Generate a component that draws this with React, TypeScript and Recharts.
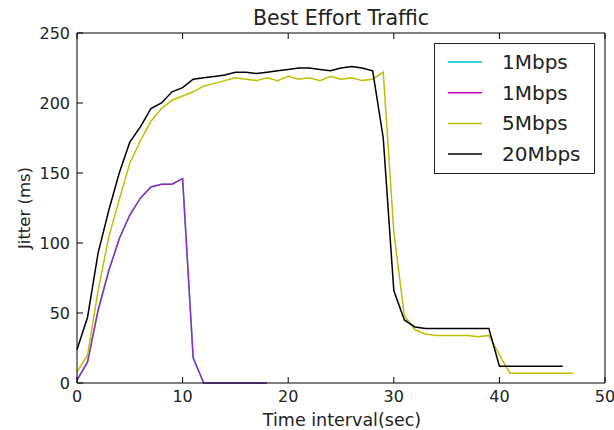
import React from "react";
import { Line, LineChart, XAxis, YAxis } from "recharts";

const seconds = [
  0, 1, 2, 3, 4, 5, 6, 7, 8, 9, 10, 11, 12, 13, 14, 15, 16, 17, 18, 19, 20, 21, 22, 23,
  24, 25, 26, 27, 28, 29, 30, 31, 32, 33, 34, 35, 36, 37, 38, 39, 40, 41, 42, 43, 44, 45, 46, 47,
];

// 1Mbps was measured twice; both runs give the same curve
const oneMbps = [2, 15, 52, 80, 103, 120, 132, 140, 142, 142, 146, 18, 0, 0, 0, 0, 0, 0, 0];

const fiveMbps = [
  8, 20, 66, 104, 131, 157, 173, 187, 196, 202, 205, 208, 212, 214, 216, 218, 217, 216, 218, 216,
  219, 217, 218, 216, 219, 217, 218, 216, 217, 222, 108, 48, 38, 35, 34, 34, 34, 34, 33, 34, 20,
  7, 7, 7, 7, 7, 7, 7,
];

const twentyMbps = [
  24, 47, 93, 123, 150, 172, 183, 196, 200, 208, 211, 217, 218, 219, 220, 222, 222, 221, 222, 223,
  224, 225, 225, 224, 223, 225, 226, 225, 223, 175, 66, 45, 40, 39, 39, 39, 39, 39, 39, 39, 12, 12,
  12, 12, 12, 12, 12,
];

const xTicks = [0, 10, 20, 30, 40, 50];
const yTicks = [0, 50, 100, 150, 200, 250];

const legendItems = [
  { label: "1Mbps", color: "#00bfbf" },
  { label: "1Mbps", color: "#bf00bf" },
  { label: "5Mbps", color: "#bfbf00" },
  { label: "20Mbps", color: "#000000" },
];

const rows = seconds.map((t, i) => ({
  t,
  oneA: oneMbps[i],
  oneB: oneMbps[i],
  five: fiveMbps[i],
  twenty: twentyMbps[i],
}));

const FONT = "'DejaVu Sans', sans-serif";
const TICK_LEN = 6;

// matplotlib-style ticks: marks point into the plot frame
const BottomTick = (props: any) => {
  const { x, y, payload } = props;
  return (
    <g>
      <line x1={x} y1={y} x2={x} y2={y - TICK_LEN} stroke="#000" />
      <text x={x} y={y + 19} textAnchor="middle" fontSize={16} fontFamily={FONT} fill="#222">
        {payload.value}
      </text>
    </g>
  );
};

const TopTick = (props: any) => {
  const { x, y } = props;
  return <line x1={x} y1={y} x2={x} y2={y + TICK_LEN} stroke="#000" />;
};

const LeftTick = (props: any) => {
  const { x, y, payload } = props;
  return (
    <g>
      <line x1={x} y1={y} x2={x + TICK_LEN} y2={y} stroke="#000" />
      <text x={x - 7} y={y + 6} textAnchor="end" fontSize={16} fontFamily={FONT} fill="#222">
        {payload.value}
      </text>
    </g>
  );
};

const RightTick = (props: any) => {
  const { x, y } = props;
  return <line x1={x} y1={y} x2={x - TICK_LEN} y2={y} stroke="#000" />;
};

const LegendBox = () => (
  <svg
    width={162}
    height={132}
    style={{ position: "absolute", left: 434, top: 43, pointerEvents: "none" }}
  >
    <rect x={0.5} y={0.5} width={160} height={130} fill="#fff" stroke="#222" />
    {legendItems.map((item, i) => {
      const cy = 19 + i * 30.7;
      return (
        <g key={i}>
          <line x1={14} x2={48} y1={cy} y2={cy} stroke={item.color} strokeWidth={1.5} />
          <text x={68} y={cy + 7} fontSize={20} fontFamily={FONT} fill="#222">
            {item.label}
          </text>
        </g>
      );
    })}
  </svg>
);

export default function App() {
  return (
    <div style={{ position: "absolute", left: 0, top: 0, width: 614, height: 430, background: "#fff" }}>
      <LineChart width={614} height={430} data={rows} margin={{ top: 32, right: 8, bottom: 0, left: 0 }}>
        <XAxis
          xAxisId="b"
          dataKey="t"
          type="number"
          domain={[0, 50]}
          ticks={xTicks}
          height={47}
          tickSize={0}
          tickMargin={0}
          tickLine={false}
          axisLine={{ stroke: "#000" }}
          tick={<BottomTick />}
        />
        <XAxis
          xAxisId="top"
          orientation="top"
          dataKey="t"
          type="number"
          domain={[0, 50]}
          ticks={xTicks}
          height={1}
          tickSize={0}
          tickMargin={0}
          tickLine={false}
          axisLine={{ stroke: "#000" }}
          tick={<TopTick />}
        />
        <YAxis
          yAxisId="l"
          type="number"
          domain={[0, 250]}
          ticks={yTicks}
          width={77}
          tickSize={0}
          tickMargin={0}
          tickLine={false}
          axisLine={{ stroke: "#000" }}
          tick={<LeftTick />}
        />
        <YAxis
          yAxisId="r"
          orientation="right"
          type="number"
          domain={[0, 250]}
          ticks={yTicks}
          width={1}
          tickSize={0}
          tickMargin={0}
          tickLine={false}
          axisLine={{ stroke: "#000" }}
          tick={<RightTick />}
        />
        <Line xAxisId="b" yAxisId="l" dataKey="oneA" stroke="#00bfbf" strokeWidth={1.5} dot={false} isAnimationActive={false} />
        <Line xAxisId="b" yAxisId="l" dataKey="oneB" stroke="#bf00bf" strokeOpacity={0.78} strokeWidth={1.5} dot={false} isAnimationActive={false} />
        <Line xAxisId="b" yAxisId="l" dataKey="five" stroke="#bfbf00" strokeWidth={1.5} dot={false} isAnimationActive={false} />
        <Line xAxisId="b" yAxisId="l" dataKey="twenty" stroke="#000" strokeWidth={1.5} dot={false} isAnimationActive={false} />
      </LineChart>
      <LegendBox />
      <svg
        width={614}
        height={430}
        style={{ position: "absolute", left: 0, top: 0, pointerEvents: "none" }}
      >
        <text x={341} y={25} textAnchor="middle" fontSize={20.5} fontFamily={FONT} fill="#222">
          Best Effort Traffic
        </text>
        <text x={342} y={426} textAnchor="middle" fontSize={17.5} fontFamily={FONT} fill="#222">
          Time interval(sec)
        </text>
        <text
          transform="translate(30,208) rotate(-90)"
          textAnchor="middle"
          fontSize={16.5}
          fontFamily={FONT}
          fill="#222"
        >
          Jitter (ms)
        </text>
      </svg>
    </div>
  );
}
